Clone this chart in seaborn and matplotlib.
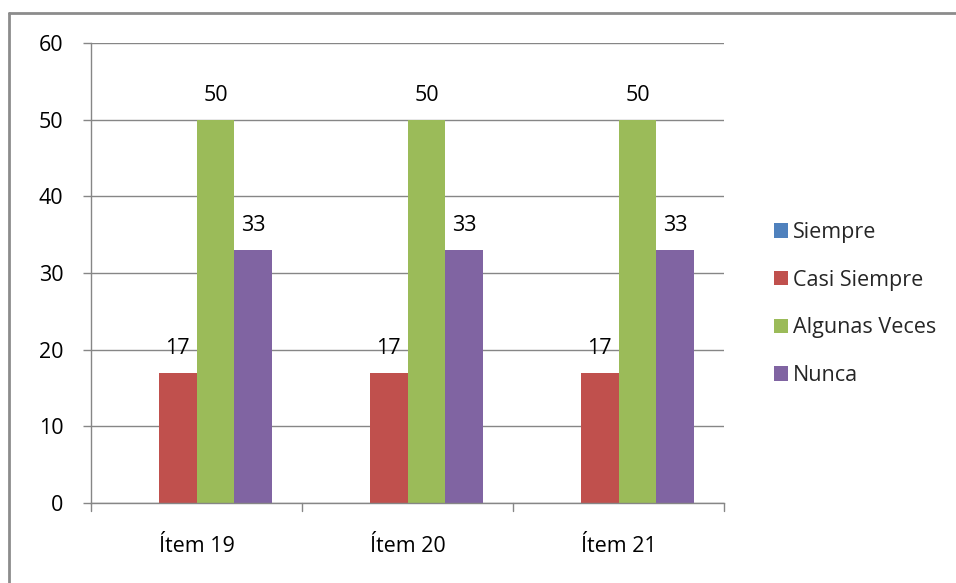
import matplotlib
matplotlib.use("Agg")
import matplotlib.pyplot as plt
from matplotlib.lines import Line2D
import seaborn as sns
import pandas as pd

items = ["Ítem 19", "Ítem 20", "Ítem 21"]
series = ["Siempre", "Casi Siempre", "Algunas Veces", "Nunca"]
siempre = [0, 0, 0]
casi_siempre = [17, 17, 17]
algunas_veces = [50, 50, 50]
nunca = [33, 33, 33]
colors = ["#4F81BD", "#C0504D", "#9BBB59", "#8064A2"]
y_ticks = [0, 10, 20, 30, 40, 50, 60]

rows = []
for name, vals in zip(series, [siempre, casi_siempre, algunas_veces, nunca]):
    for it, v in zip(items, vals):
        rows.append({"item": it, "serie": name, "valor": v})
df = pd.DataFrame(rows)

sns.set_theme(style="white")
plt.rcParams["font.family"] = ["Open Sans", "DejaVu Sans"]
FS = 15.5

fig = plt.figure(figsize=(9.56, 5.83), dpi=100)
ax = fig.add_axes([91 / 956, 80 / 583, (724 - 91) / 956, (540 - 80) / 583])

sns.barplot(data=df, x="item", y="valor", hue="serie", order=items,
            hue_order=series, palette=colors, width=0.72, saturation=1,
            errorbar=None, ax=ax, linewidth=0)

ax.set_xlim(-0.5, len(items) - 0.5)
ax.set_ylim(0, 60)
ax.set_yticks(y_ticks)
ax.set_xlabel("")
ax.set_ylabel("")

grid_c = "#868686"
ax.yaxis.grid(True, color=grid_c, linewidth=1)
ax.set_axisbelow(True)
for side in ["top", "right"]:
    ax.spines[side].set_visible(False)
for side in ["left", "bottom"]:
    ax.spines[side].set_color(grid_c)
    ax.spines[side].set_linewidth(1)

# y ticks point outward, x ticks sit on category boundaries
ax.tick_params(axis="y", length=6, color=grid_c, width=1, pad=14,
               labelsize=FS, labelcolor="black", left=True)
ax.set_xticks([i for i in range(len(items))])
ax.set_xticklabels(items)
ax.tick_params(axis="x", length=0, pad=24, labelsize=FS, labelcolor="black")
for b in [-0.5, 0.5, 1.5, 2.5]:
    ax.add_line(Line2D([b, b], [0, -1.0], color=grid_c, linewidth=1,
                       clip_on=False))

# value labels on non-zero bars
for cont in ax.containers:
    labels = [f"{v:.0f}" if v > 0 else "" for v in cont.datavalues]
    ax.bar_label(cont, labels=labels, padding=10, fontsize=FS, color="black")

# legend
leg = ax.get_legend()
handles = leg.legend_handles
leg.remove()
fig.legend(handles, series, loc="center left",
           bbox_to_anchor=(765 / 956, 1 - 304 / 583), frameon=False,
           fontsize=FS, handlelength=0.65, handleheight=0.65,
           handletextpad=0.25, labelspacing=1.24, borderaxespad=0)

# outer frame edges along the top and left
fig.add_artist(Line2D([9 / 956, 1], [1 - 13 / 583, 1 - 13 / 583],
                      transform=fig.transFigure, color="#8C8C8C", linewidth=2))
fig.add_artist(Line2D([9 / 956, 9 / 956], [0, 1 - 13 / 583],
                      transform=fig.transFigure, color="#8C8C8C", linewidth=2))

fig.savefig("out.png", dpi=100, facecolor="white")
